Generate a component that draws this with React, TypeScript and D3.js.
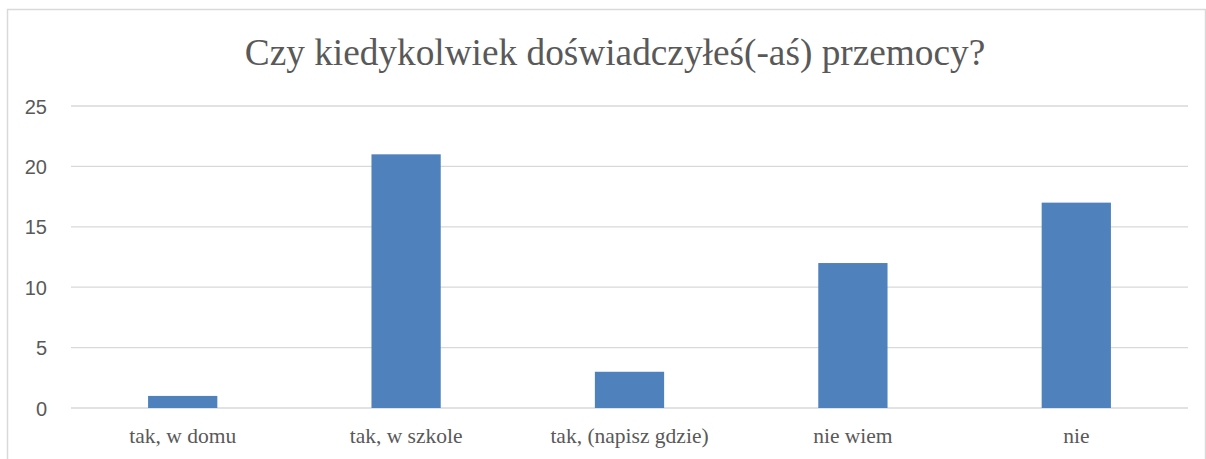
import * as d3 from "d3";

const categories = ["tak, w domu", "tak, w szkole", "tak, (napisz gdzie)", "nie wiem", "nie"];
const values = [1, 21, 3, 12, 17];
const yTicks = [0, 5, 10, 15, 20, 25];
const title = "Czy kiedykolwiek doświadczyłeś(-aś) przemocy?";

const serif = '"Liberation Serif", "Times New Roman", serif';
const sans = '"Liberation Sans", Arial, "DejaVu Sans", sans-serif';

export default function App() {
    const width = 1206;
    const height = 459;
    const plot = { left: 71, right: 1188, top: 106, bottom: 408 };

    const x = d3.scaleBand()
        .domain(categories)
        .range([plot.left, plot.right])
        .paddingInner(0.69)
        .paddingOuter(0.345);

    const y = d3.scaleLinear()
        .domain([0, 25])
        .range([plot.bottom, plot.top]);

    const grey = "#595959";

    return (
        <svg
            width={width}
            height={height}
            style={{ position: "absolute", left: 0, top: 0, background: "#fff" }}
        >
            {/* outer frame, bottom cut off */}
            <path
                d={`M7.5,${height} V9.5 H1205.5 V${height}`}
                fill="none"
                stroke="#d9d9d9"
                strokeWidth={1.5}
            />

            <text
                x={615}
                y={65}
                textAnchor="middle"
                style={{ fontFamily: serif }}
                fontSize={37.3}
                fill={grey}
            >
                {title}
            </text>

            {yTicks.map(t => (
                <g key={t} transform={`translate(0,${y(t)})`}>
                    <line x1={plot.left} x2={plot.right} stroke="#d9d9d9" strokeWidth={1.3} />
                    <text
                        x={47}
                        y={7.5}
                        textAnchor="end"
                        style={{ fontFamily: sans }}
                        fontSize={20}
                        fill={grey}
                    >
                        {t}
                    </text>
                </g>
            ))}

            {categories.map((c, i) => (
                <rect
                    key={c}
                    x={x(c)}
                    y={y(values[i])}
                    width={x.bandwidth()}
                    height={y(0) - y(values[i])}
                    fill="#4f81bd"
                />
            ))}

            {categories.map(c => (
                <text
                    key={c}
                    x={(x(c) ?? 0) + x.bandwidth() / 2}
                    y={443}
                    textAnchor="middle"
                    style={{ fontFamily: serif }}
                    fontSize={21.5}
                    fill={grey}
                >
                    {c}
                </text>
            ))}
        </svg>
    );
}
